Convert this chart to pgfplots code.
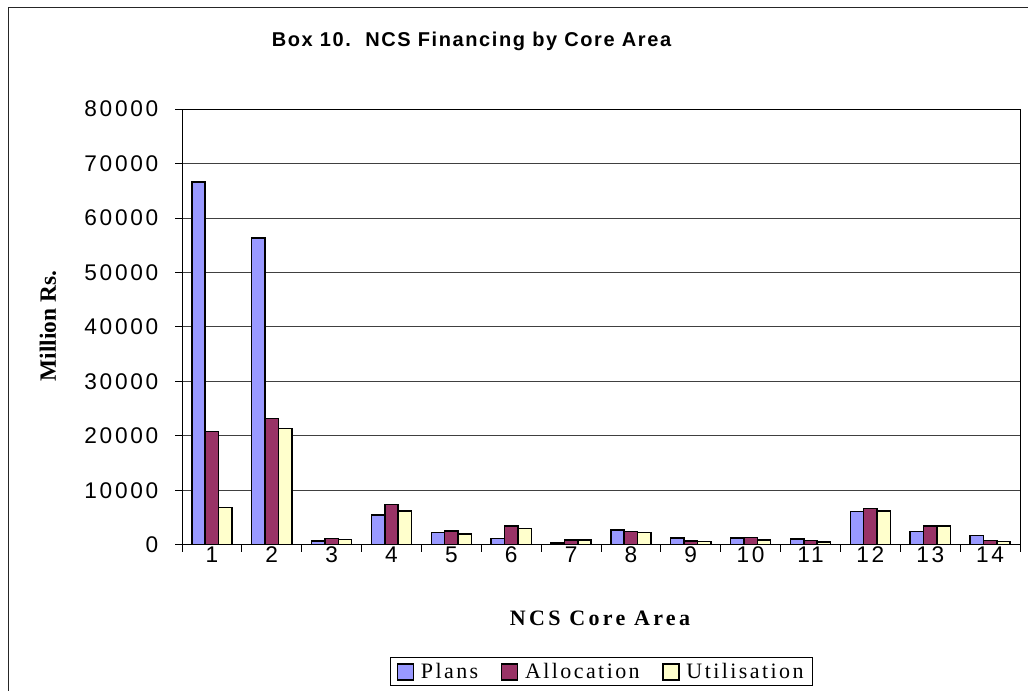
\documentclass[border=0pt]{standalone}
\usepackage{pgfplots}
\pgfplotsset{compat=1.18}
\usepackage{pgfplotstable}
\usepackage{fontspec}
\setmainfont{Liberation Serif}
\newfontfamily\ticksf[LetterSpace=12]{Liberation Sans}
\newfontfamily\titlesf[LetterSpace=8]{Liberation Sans}
\newfontfamily\xlabrm[LetterSpace=15]{Liberation Serif}
\newfontfamily\legrm[LetterSpace=11]{Liberation Serif}
\newfontfamily\ylabrm{Liberation Serif}
\definecolor{plans}{HTML}{9999FF}
\definecolor{alloc}{HTML}{993366}
\definecolor{util}{HTML}{FFFFCC}

\pgfplotstableread{
x plans alloc util
1 66600 20850 6900
2 56300 23250 21400
3 700 1200 1050
4 5500 7400 6200
5 2250 2600 2000
6 1200 3500 3000
7 400 900 900
8 2750 2500 2250
9 1300 750 600
10 1250 1350 900
11 1100 850 550
12 6100 6650 6200
13 2450 3500 3500
14 1700 850 650
}\data

\begin{document}
\begin{tikzpicture}[x=0.75pt,y=0.75pt]
\useasboundingbox (0,0) rectangle (1028,691);
\draw[line width=0.75pt, black!85] (8,0) -- (8,683) -- (1028,683);
\node[font=\titlesf\bfseries\fontsize{15}{18}\selectfont] at (471.5,650) {Box 10.\ \ NCS Financing by Core Area};
\node[rotate=90, font=\ylabrm\bfseries\fontsize{17.5}{20}\selectfont] at (48,365) {Million Rs.};
\node[font=\xlabrm\bfseries\fontsize{16.5}{20}\selectfont] at (600,73) {NCS Core Area};
\begin{axis}[
  at={(136.5pt,109.5pt)}, anchor=south west,
  scale only axis, width=628.5pt, height=327pt,
  ybar=0pt, bar width=0.224,
  xmin=0.5, xmax=14.5, ymin=0, ymax=80000,
  ytick={0,10000,...,80000},
  xtick={1,...,14},
  minor xtick={0.5,1.5,...,14.5},
  tick pos=left,
  tick align=outside,
  major tick length=5.25pt, minor tick length=5.25pt,
  major x tick style={draw=none},
  minor x tick style={black, line width=0.75pt},
  major y tick style={black, line width=0.75pt},
  axis line style={black, line width=0.75pt},
  ymajorgrids=true,
  major grid style={black!75, line width=0.75pt},
  scaled y ticks=false,
  ticklabel style={font=\ticksf\fontsize{17}{20}\selectfont},
  yticklabel style={xshift=-9pt},
  xticklabel style={anchor=north, text height=12.5pt, text depth=0pt, inner sep=2pt, yshift=6.5pt},
  /pgf/number format/assume math mode=true,
  /pgf/number format/1000 sep={},
  legend style={at={(0.5006,-0.291)}, anchor=center, draw=black, line width=0.75pt,
    font=\legrm\fontsize{16.5}{20}\selectfont, legend columns=3,
    /tikz/every even column/.append style={column sep=15pt},
    /tikz/every odd column/.append style={column sep=3pt},
    inner xsep=5pt, inner ysep=2pt},
  legend image code/.code={\draw[#1, line width=1.1pt, draw=black] (0pt,-6pt) rectangle (12pt,6pt);},
]
\addplot[fill=plans, draw=black, line width=1.1pt] table[x=x, y=plans] {\data};
\addplot[fill=alloc, draw=black, line width=1.1pt] table[x=x, y=alloc] {\data};
\addplot[fill=util, draw=black, line width=1.1pt] table[x=x, y=util] {\data};
\legend{Plans, Allocation, Utilisation}
\end{axis}
\end{tikzpicture}
\end{document}
